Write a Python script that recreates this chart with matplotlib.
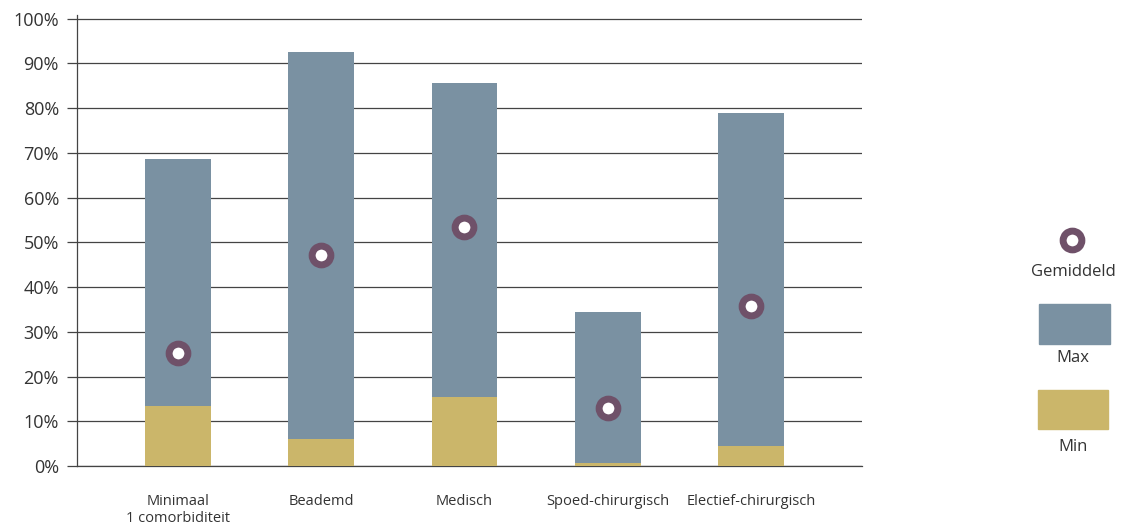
import matplotlib
matplotlib.use("Agg")
import matplotlib.pyplot as plt
from matplotlib.patches import Rectangle
from matplotlib.lines import Line2D

plt.rcParams['font.family'] = ['Open Sans', 'DejaVu Sans']

categories = ["Minimaal\n1 comorbiditeit", "Beademd", "Medisch",
              "Spoed-chirurgisch", "Electief-chirurgisch"]
max_vals = [68.6, 92.5, 85.6, 34.4, 78.9]
min_vals = [13.5, 6.0, 15.5, 0.7, 4.5]
mean_vals = [25.2, 47.2, 53.5, 13.0, 35.8]
y_ticks = [0, 10, 20, 30, 40, 50, 60, 70, 80, 90, 100]

C_MAX = "#7a91a2"
C_MIN = "#cbb66a"
C_MEAN = "#6f5169"
C_GRID = "#444444"
C_TEXT = "#333333"

W, H = 1124, 531
fig = plt.figure(figsize=(W / 100, H / 100), dpi=100)
ax = fig.add_axes([77 / W, 1 - 466 / H, (862 - 77) / W, (466 - 15) / H])

x = list(range(len(categories)))
ax.bar(x, max_vals, width=0.46, color=C_MAX, zorder=2)
ax.bar(x, min_vals, width=0.46, color=C_MIN, zorder=3)
ax.plot(x, mean_vals, linestyle="none", marker="o", markersize=13.5,
        markerfacecolor="white", markeredgecolor=C_MEAN,
        markeredgewidth=5, zorder=4)

ax.set_xlim(-0.705, 4.775)
ax.set_ylim(0, 100.8)
ax.set_yticks(y_ticks)
ax.set_yticklabels([f"{v}%" for v in y_ticks], fontsize=13, color=C_TEXT)
ax.yaxis.grid(True, color=C_GRID, linewidth=0.9, zorder=1)
ax.set_axisbelow(True)
ax.tick_params(axis="y", length=7, width=0.9, color=C_GRID, pad=6)

ax.set_xticks(x)
ax.set_xticklabels(categories, fontsize=10.5, color=C_TEXT, linespacing=1.2)
ax.tick_params(axis="x", length=0, pad=20)

for side in ("top", "right"):
    ax.spines[side].set_visible(False)
ax.spines["left"].set_color(C_GRID)
ax.spines["left"].set_linewidth(0.9)
ax.spines["bottom"].set_color(C_GRID)
ax.spines["bottom"].set_linewidth(0.9)

# legend drawn as free-standing figure artists on the right
def fx(px):
    return px / W

def fy(py):
    return 1 - py / H

fig.add_artist(Line2D([fx(1072)], [fy(240)], linestyle="none", marker="o",
                      markersize=13.5, markerfacecolor="white",
                      markeredgecolor=C_MEAN, markeredgewidth=5))
fig.text(fx(1073), fy(272), "Gemiddeld", ha="center", va="center",
         fontsize=12, color=C_TEXT)
fig.add_artist(Rectangle((fx(1039), fy(344)), fx(71), 40 / H,
                         color=C_MAX, transform=fig.transFigure))
fig.text(fx(1073), fy(358), "Max", ha="center", va="center",
         fontsize=12, color=C_TEXT)
fig.add_artist(Rectangle((fx(1038), fy(429)), fx(70), 39 / H,
                         color=C_MIN, transform=fig.transFigure))
fig.text(fx(1073), fy(447), "Min", ha="center", va="center",
         fontsize=12, color=C_TEXT)

fig.savefig("out.png", dpi=100)
